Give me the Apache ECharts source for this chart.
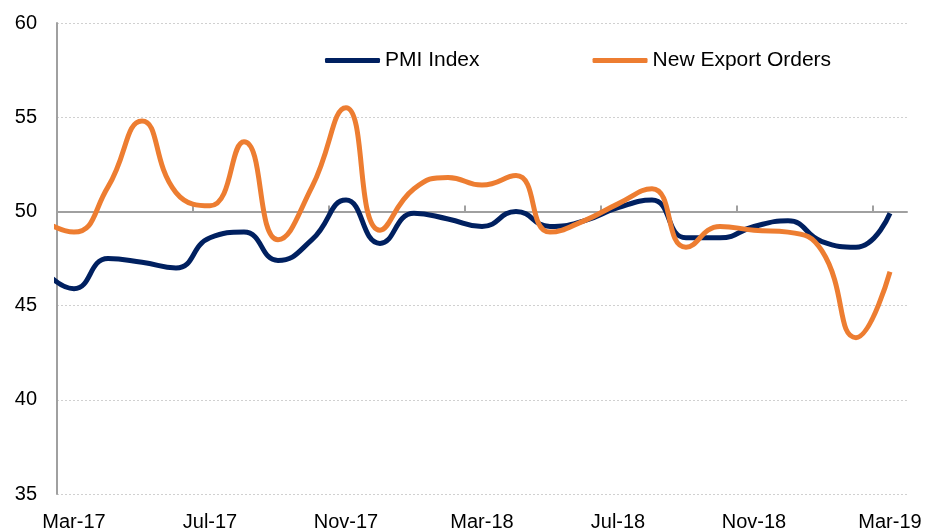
<!DOCTYPE html>
<html>
<head>
<meta charset="utf-8">
<script src="https://cdn.jsdelivr.net/npm/echarts@6/dist/echarts.min.js"></script>
<style>
  html, body { margin: 0; padding: 0; background: #fff; }
  #chart { width: 935px; height: 530px; }
</style>
</head>
<body>
<div id="chart"></div>
<script>
// months from Feb-17 (partly cut off at the left edge) to Mar-19
const months = ['Feb-17', 'Mar-17', 'Apr-17', 'May-17', 'Jun-17', 'Jul-17', 'Aug-17', 'Sep-17', 'Oct-17', 'Nov-17', 'Dec-17',
  'Jan-18', 'Feb-18', 'Mar-18', 'Apr-18', 'May-18', 'Jun-18', 'Jul-18', 'Aug-18', 'Sep-18', 'Oct-18', 'Nov-18', 'Dec-18',
  'Jan-19', 'Feb-19', 'Mar-19']
const pmiIndex = [47.1, 45.9, 47.5, 47.3, 47.0, 48.6, 48.9, 47.4, 48.5, 50.6, 48.3,
  49.9, 49.6, 49.2, 50.0, 49.2, 49.5, 50.2, 50.6, 48.6, 48.6, 49.2, 49.5,
  48.4, 48.1, 49.9]
const newExportOrders = [49.6, 48.9, 51.3, 54.8, 51.0, 50.3, 53.7, 48.5, 51.3, 55.5, 49.0,
  51.2, 51.8, 51.4, 51.9, 48.9, 49.5, 50.4, 51.2, 48.1, 49.2, 49.0, 48.9,
  47.9, 43.3, 46.8]
const labelMonths = ['Mar-17', 'Jul-17', 'Nov-17', 'Mar-18', 'Jul-18', 'Nov-18', 'Mar-19']

// month i sits in the middle of its slot: x = i - 0.5
const xOf = (i) => i - 0.5
const labelPos = labelMonths.map((m) => xOf(months.indexOf(m)))
const tickPos = labelPos.map((v) => v - 0.5)

const font = 'Liberation Sans, Arial, sans-serif'
const myChart = echarts.init(document.getElementById('chart'))

const option = {
  animation: false,
  textStyle: { fontFamily: font },
  legend: {
    data: ['PMI Index', 'New Export Orders'],
    left: 320,
    top: 45,
    icon: 'roundRect',
    itemWidth: 55,
    itemHeight: 5,
    itemGap: 113,
    textStyle: { fontSize: 21, color: '#000', fontFamily: font },
  },
  grid: {
    left: 57,
    right: 28,
    top: 23,
    bottom: 36,
    outerBoundsMode: 'none',
  },
  xAxis: [
    {
      type: 'value',
      position: 'bottom',
      min: 0,
      max: months.length - 1,
      axisLine: { show: false },
      axisTick: { show: false },
      splitLine: { show: false },
      axisLabel: {
        customValues: labelPos,
        formatter: (v) => months[Math.round(v + 0.5)],
        fontSize: 20,
        color: '#000',
        margin: 18,
        fontFamily: font,
      },
    },
    {
      // the month axis crossing at 50
      type: 'value',
      position: 'top',
      offset: -188.4,
      min: 0,
      max: months.length - 1,
      axisLine: { show: true, lineStyle: { color: '#a0a0a0', width: 2 } },
      axisTick: { show: true, customValues: tickPos, length: 6, lineStyle: { color: '#a0a0a0', width: 2 } },
      axisLabel: { show: false },
      splitLine: { show: false },
    },
  ],
  yAxis: {
    type: 'value',
    min: 35,
    max: 60,
    interval: 5,
    axisLine: { show: true, lineStyle: { color: '#a0a0a0', width: 2 } },
    axisTick: { show: false },
    axisLabel: { fontSize: 20, color: '#000', margin: 20, fontFamily: font },
    splitLine: { lineStyle: { color: '#d0d0d0', type: [2, 2], width: 1 } },
  },
  series: [
    {
      name: 'PMI Index',
      type: 'line',
      smooth: 0.5,
      symbol: 'none',
      clip: true,
      z: 3,
      itemStyle: { color: '#002060' },
      lineStyle: { color: '#002060', width: 5 },
      data: pmiIndex.map((v, i) => [xOf(i), v]),
    },
    {
      name: 'New Export Orders',
      type: 'line',
      smooth: 0.5,
      symbol: 'none',
      clip: true,
      z: 4,
      itemStyle: { color: '#ED7D31' },
      lineStyle: { color: '#ED7D31', width: 5 },
      data: newExportOrders.map((v, i) => [xOf(i), v]),
    },
  ],
}

myChart.setOption(option)
</script>
</body>
</html>
